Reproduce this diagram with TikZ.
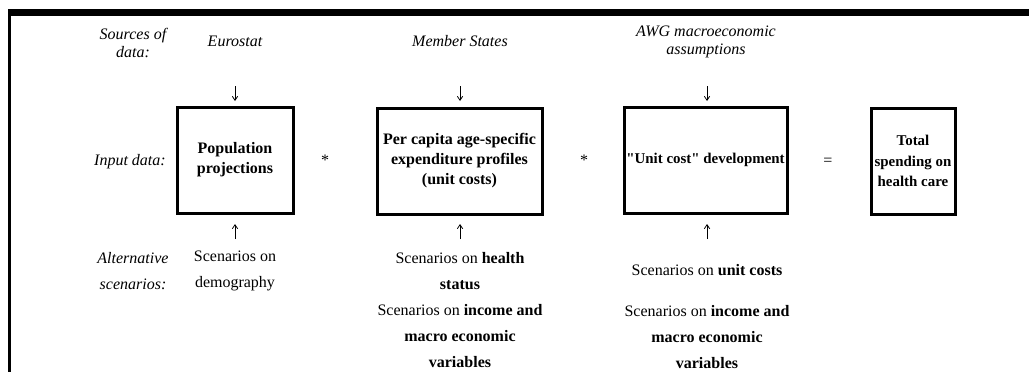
\documentclass[tikz,border=0pt]{standalone}
\usepackage{fontspec}
\setmainfont{Liberation Serif}
\newfontfamily\qfont{Liberation Serif}
\usetikzlibrary{arrows.meta}
\begin{document}
\begin{tikzpicture}[x=0.75pt,y=-0.75pt,
  every node/.style={inner sep=0pt},
  lab/.style={font=\fontsize{12}{14}\selectfont\itshape, align=center},
  labb/.style={font=\fontsize{12}{19.5}\selectfont\itshape, align=center},
  box/.style={draw, line width=2.25pt, align=center, font=\fontsize{12}{15}\selectfont\bfseries},
  txt/.style={font=\fontsize{12}{19.5}\selectfont, align=center},
  op/.style={font=\fontsize{12}{15}\selectfont},
  arr/.style={line width=0.6pt, -{Straight Barb[length=3pt,width=4pt]}},
]
\useasboundingbox (0,0) rectangle (1029,372);
\clip (0,0) rectangle (1029,372);
% frame
\fill (8,9) rectangle (1029,16);
\fill (8,9) rectangle (11,372);
% row labels
\node[lab] (srclab) at (133,43) {Sources of\\data:};
\node[lab, anchor=east] (inlab) at (166,162) {Input data:};
\node[labb] (altlab) at (133,271) {Alternative\\scenarios:};
% sources
\node[lab] (src1) at (235,41) {Eurostat};
\node[lab] (src2) at (460,41) {Member States};
\node[lab] (src3) at (706,42) {AWG macroeconomic\\assumptions};
% boxes
\node[box, minimum width=87pt, minimum height=79.5pt] (b1) at (235,160) {Population\\projections};
\node[box, minimum width=123.75pt, minimum height=79.5pt] (b2) at (459.5,161) {Per capita age-specific\\expenditure profiles\\(unit costs)};
\node[box, minimum width=122.25pt, minimum height=79.5pt, font=\fontsize{11.2}{15}\selectfont\bfseries\qfont] (b3) at (705.5,160) {"Unit cost" development};
\node[box, minimum width=63pt, minimum height=79.5pt, font=\fontsize{11.2}{15.5}\selectfont\bfseries] (b4) at (913,161) {Total\\spending on\\health care};
% operators
\node[op] (m1) at (325,160) {*};
\node[op] (m2) at (584,160) {*};
\node[op] (eq) at (828,162) {=};
% arrows
\coordinate (d1a) at (235,86); \coordinate (d1b) at (235,101);
\coordinate (d2a) at (460,86); \coordinate (d2b) at (460,101);
\coordinate (d3a) at (707,86); \coordinate (d3b) at (707,101);
\draw[arr] (d1a) -- (d1b);
\draw[arr] (d2a) -- (d2b);
\draw[arr] (d3a) -- (d3b);
\coordinate (u1a) at (235,239); \coordinate (u1b) at (235,224);
\coordinate (u2a) at (460,239); \coordinate (u2b) at (460,224);
\coordinate (u3a) at (707,239); \coordinate (u3b) at (707,224);
\draw[arr] (u1a) -- (u1b);
\draw[arr] (u2a) -- (u2b);
\draw[arr] (u3a) -- (u3b);
% scenarios
\node[txt] (s1) at (235,271) {Scenarios on\\demography};
\node[txt] (s2) at (460,310) {Scenarios on \textbf{health}\\\textbf{status}\\Scenarios on \textbf{income and}\\\textbf{macro economic}\\\textbf{variables}};
\node[txt] (s3a) at (707,270) {Scenarios on \textbf{unit costs}};
\node[txt] (s3b) at (707,337) {Scenarios on \textbf{income and}\\\textbf{macro economic}\\\textbf{variables}};
\end{tikzpicture}
\end{document}
